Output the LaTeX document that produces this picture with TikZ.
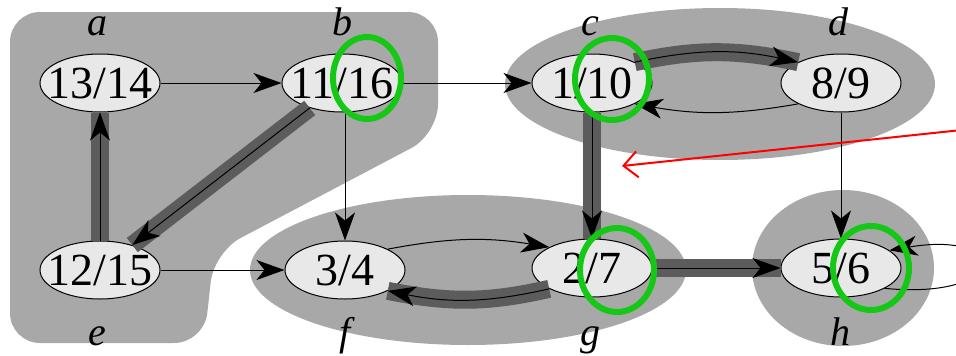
\documentclass[tikz,border=0pt]{standalone}
\usepackage{fontspec}
\setmainfont{Liberation Serif}
\usetikzlibrary{arrows.meta,shapes.geometric}
\definecolor{regfill}{gray}{0.66}
\definecolor{nodefill}{gray}{0.91}
\definecolor{bandcol}{gray}{0.36}
\definecolor{ringgreen}{RGB}{22,200,22}
\tikzset{
 region/.style={fill=regfill},
 vtx/.style={ellipse, draw=black, line width=1pt, fill=nodefill, minimum width=120pt, minimum height=58pt, inner sep=0pt, font=\fontsize{46}{50}\selectfont},
 lbl/.style={anchor=base, inner sep=0pt, font=\fontsize{40}{44}\selectfont\itshape},
 edge/.style={draw=black, line width=1pt, -{Stealth[length=28pt,width=20pt,inset=8pt]}},
 tband/.style={draw=bandcol, line width=18pt},
 ring/.style={ellipse, draw=ringgreen, line width=6pt, inner sep=0pt},
 redarrow/.style={draw=red, line width=2pt, -{Straight Barb[length=14pt,width=26pt]}},
}
\newcommand{\vt}[1]{\makebox[0pt]{#1}}
\begin{document}
\begin{tikzpicture}[x=1pt,y=-1pt]
\useasboundingbox (0,0) rectangle (956,356);
\clip (0,0) rectangle (956,356);
\fill[white] (0,0) rectangle (956,356);
% shaded regions
\fill[region, rounded corners=30pt] (10,12) -- (438,12) -- (438,134) -- (214,252) -- (204,343) -- (10,343) -- cycle;
\fill[region] (720,84) ellipse [x radius=215, y radius=76];
\fill[region] (468,270) ellipse [x radius=218, y radius=75];
\fill[region] (843,268) ellipse [x radius=91, y radius=78];
% vertices
\node[vtx] (a) at (100,83) {\vt{13/14}};
\node[vtx] (b) at (342,83) {\vt{11/16}};
\node[vtx] (c) at (592,83) {\vt{1/10}};
\node[vtx] (d) at (841,83) {\vt{8/9}};
\node[vtx] (e) at (100,270) {\vt{12/15}};
\node[vtx] (f) at (345,270) {\vt{3/4}};
\node[vtx] (g) at (592,268) {\vt{2/7}};
\node[vtx] (h) at (841,268) {\vt{5/6}};
% labels
\node[lbl] (la) at (97,35) {a};
\node[lbl] (lb) at (342,35) {b};
\node[lbl] (lc) at (590,35) {c};
\node[lbl] (ld) at (838,35) {d};
\node[lbl] (le) at (97,345) {e};
\node[lbl] (lf) at (345,345) {f};
\node[lbl] (lg) at (590,345) {g};
\node[lbl] (lh) at (840,345) {h};
% tree-edge bands
\draw[tband] (e) -- (a);
\draw[tband] (b) -- (e);
\draw[tband] (c) -- (g);
\draw[tband] (g) -- (h);
\draw[tband] (c.north east) to[bend left=12] (d.north west);
\draw[tband] (g.south west) to[bend left=12] (f.south east);
% edges
\draw[edge] (a) -- (b);
\draw[edge] (b) -- (c);
\draw[edge] (f.north |- b.south) -- (f.north);
\draw[edge] (b) -- (e);
\draw[edge] (e) -- (a);
\draw[edge] (e) -- (f);
\draw[edge] (f.north east) to[bend left=10] (g.north west);
\draw[edge] (g.south west) to[bend left=12] (f.south east);
\draw[edge] (c.north east) to[bend left=12] (d.north west);
\draw[edge] (d.south west) to[bend left=10] (c.south east);
\draw[edge] (c) -- (g);
\draw[edge] (d) -- (h);
\draw[edge] (g) -- (h);
\draw[edge] (h.-25) .. controls (1010,300) and (1010,230) .. (h.20);
% green rings
\node[ring, minimum width=68pt, minimum height=82pt] (rb) at (367,78) {};
\node[ring, minimum width=74pt, minimum height=82pt] (rc) at (612,79) {};
\node[ring, minimum width=74pt, minimum height=84pt] (rg) at (617,270) {};
\node[ring, minimum width=76pt, minimum height=84pt] (rh) at (871,268) {};
% red pointer
\coordinate (rs) at (990,127);
\coordinate (re) at (622,166);
\draw[redarrow] (rs) -- (re);
\end{tikzpicture}
\end{document}
